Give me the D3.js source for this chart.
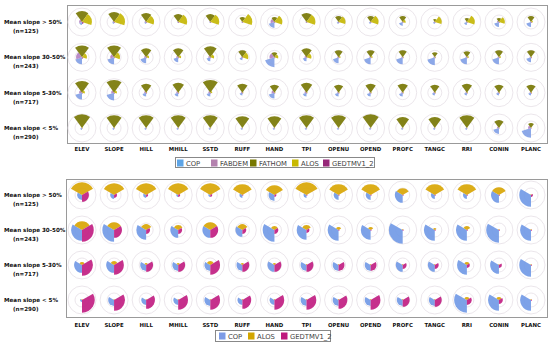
<!DOCTYPE html>
<html>
<head>
<meta charset="utf-8">
<script src="https://cdn.jsdelivr.net/npm/d3@7"></script>
<style>
  body { margin: 0; background: #fff; }
  text { font-family: "DejaVu Sans", Verdana, sans-serif; }
</style>
</head>
<body>
<svg id="chart" width="550" height="342"></svg>
<script>
// terrain variables (columns) and slope classes (rows)
var variables = ['ELEV', 'SLOPE', 'HILL', 'MHILL', 'SSTD', 'RUFF', 'HAND', 'TPI',
                 'OPENU', 'OPEND', 'PROFC', 'TANGC', 'RRI', 'CONIN', 'PLANC'];
var slopeClasses = ['Mean slope > 50%', 'Mean slope 30-50%', 'Mean slope 5-30%', 'Mean slope < 5%'];
var slopeCounts = ['(n=125)', '(n=243)', '(n=717)', '(n=290)'];

// top panel: five DEMs, one row per slope class
var topSeries = ['COP', 'FABDEM', 'FATHOM', 'ALOS', 'GEDTMV1_2'];
var topCOP = [
  [21, 14, 14, 7, 7, 7, 42, 7, 14, 14, 28, 14, 21, 35, 35],
  [49, 49, 42, 35, 28, 21, 70, 28, 42, 49, 49, 56, 49, 49, 35],
  [49, 56, 28, 28, 28, 21, 42, 28, 28, 28, 28, 21, 21, 21, 21],
  [14, 14, 14, 14, 14, 14, 14, 14, 14, 14, 14, 14, 14, 42, 70]
];
var topFABDEM = [
  [21, 10, 10, 7, 7, 7, 28, 7, 7, 7, 7, 7, 7, 14, 7],
  [42, 28, 14, 14, 14, 10, 35, 14, 10, 10, 10, 10, 10, 10, 10],
  [21, 21, 14, 14, 14, 10, 21, 14, 10, 10, 10, 10, 10, 10, 10],
  [7, 7, 7, 7, 7, 7, 7, 7, 7, 7, 7, 7, 7, 14, 21]
];
var topFATHOM = [
  [77, 70, 63, 56, 56, 35, 35, 63, 42, 42, 42, 21, 28, 28, 42],
  [84, 84, 63, 63, 77, 49, 35, 63, 49, 49, 49, 35, 42, 49, 49],
  [84, 91, 63, 70, 91, 63, 56, 70, 56, 63, 63, 56, 63, 56, 56],
  [98, 91, 91, 91, 91, 84, 84, 91, 91, 98, 77, 77, 91, 56, 35]
];
var topALOS = [
  [70, 77, 56, 63, 63, 70, 56, 63, 49, 56, 21, 49, 56, 42, 14],
  [35, 42, 21, 21, 28, 42, 28, 35, 14, 14, 7, 7, 14, 14, 7],
  [21, 21, 7, 7, 14, 7, 7, 7, 7, 7, 7, 7, 7, 7, 7],
  [7, 7, 5, 5, 7, 5, 5, 5, 5, 5, 5, 5, 5, 5, 5]
];
var topGEDTM = [
  [14, 7, 7, 7, 7, 7, 7, 7, 7, 7, 7, 7, 7, 7, 7],
  [10, 7, 7, 7, 7, 7, 7, 7, 7, 7, 7, 7, 7, 7, 7],
  [7, 7, 7, 7, 7, 7, 7, 7, 7, 7, 7, 7, 7, 7, 7],
  [5, 5, 5, 5, 5, 5, 5, 5, 5, 5, 5, 5, 5, 5, 5]
];

// bottom panel: three DEMs
var bottomSeries = ['COP', 'ALOS', 'GEDTMV1_2'];
var botCOP = [
  [35, 28, 21, 14, 14, 21, 42, 21, 35, 35, 56, 28, 28, 56, 84],
  [77, 84, 70, 56, 56, 49, 84, 70, 77, 70, 98, 77, 77, 91, 77],
  [56, 56, 42, 42, 42, 42, 49, 42, 42, 42, 49, 49, 70, 63, 84],
  [14, 42, 35, 35, 42, 35, 35, 42, 42, 42, 42, 42, 91, 77, 77]
];
var botALOS = [
  [91, 84, 84, 84, 84, 77, 70, 91, 77, 77, 49, 77, 77, 56, 7],
  [63, 56, 42, 35, 56, 42, 28, 35, 21, 21, 7, 14, 28, 7, 7],
  [21, 28, 14, 14, 28, 14, 14, 7, 7, 7, 7, 7, 21, 7, 7],
  [7, 7, 7, 7, 7, 7, 7, 7, 7, 7, 7, 7, 21, 21, 7]
];
var botGEDTM = [
  [49, 21, 14, 14, 14, 7, 14, 7, 7, 7, 7, 7, 7, 7, 14],
  [84, 56, 28, 28, 56, 28, 28, 21, 7, 7, 7, 7, 7, 7, 7],
  [77, 70, 49, 49, 70, 49, 49, 49, 42, 42, 28, 28, 21, 21, 7],
  [91, 77, 63, 70, 70, 63, 70, 70, 63, 70, 49, 49, 35, 28, 7]
];

var svg = d3.select('#chart');

function drawPanel(p) {
  var x = d3.scalePoint().domain(variables).range([p.x0, p.x1]);
  var y = d3.scalePoint().domain(slopeClasses).range([p.y0, p.y1]);
  var r = d3.scaleLinear().domain([0, 100]).range([0, 14]);
  var n = p.series.length;
  var step = 2 * Math.PI / n;
  var arc = d3.arc().innerRadius(0);

  var g = svg.append('g');

  // frame round the small multiples
  g.append('rect')
      .attr('x', p.box[0] + 0.5).attr('y', p.box[1] + 0.5)
      .attr('width', p.box[2] - p.box[0]).attr('height', p.box[3] - p.box[1])
      .attr('fill', 'none').attr('stroke', '#9a9a9a').attr('stroke-width', 1);

  slopeClasses.forEach(function(sc, ri) {
    variables.forEach(function(v, ci) {
      var cell = g.append('g')
          .attr('transform', 'translate(' + x(v) + ',' + y(sc) + ')');

      cell.selectAll('circle.grid')
          .data([50, 100])
          .enter().append('circle')
          .attr('class', 'grid')
          .attr('r', function(d) { return r(d); })
          .attr('fill', 'none')
          .attr('stroke', '#e6dfe6')
          .attr('stroke-width', 0.8);

      var wedges = p.series.map(function(s, si) {
        return { name: s, value: p.values[si][ri][ci], i: si };
      });
      cell.selectAll('path.wedge')
          .data(wedges)
          .enter().append('path')
          .attr('class', 'wedge')
          .attr('d', function(d) {
            return arc({ outerRadius: r(d.value),
                         startAngle: Math.PI + d.i * step,
                         endAngle: Math.PI + (d.i + 1) * step });
          })
          .attr('fill', function(d) { return p.fills[d.i]; })
          .attr('fill-opacity', 0.9);
    });

    // row labels
    g.append('text')
        .attr('x', 4).attr('y', y(sc) + 2)
        .attr('font-size', 5.6).attr('font-weight', 'bold').attr('fill', '#111')
        .text(sc);
    g.append('text')
        .attr('x', 13).attr('y', y(sc) + 11)
        .attr('font-size', 5.6).attr('font-weight', 'bold').attr('fill', '#111')
        .text(slopeCounts[ri]);
  });

  // column labels
  g.selectAll('text.col')
      .data(variables)
      .enter().append('text')
      .attr('class', 'col')
      .attr('x', function(d) { return x(d); })
      .attr('y', p.labelY)
      .attr('text-anchor', 'middle')
      .attr('font-size', 5.4).attr('font-weight', 'bold').attr('fill', '#111')
      .text(function(d) { return d; });

  // legend
  var lg = g.append('g');
  lg.append('rect')
      .attr('x', p.legend.x0 + 0.5).attr('y', p.legend.y0 + 0.5)
      .attr('width', p.legend.x1 - p.legend.x0).attr('height', p.legend.y1 - p.legend.y0)
      .attr('fill', '#fff').attr('stroke', '#888').attr('stroke-width', 1);
  p.series.forEach(function(s, si) {
    lg.append('rect')
        .attr('x', p.legend.swatch[si]).attr('y', p.legend.y0 + 2.5)
        .attr('width', 6.5).attr('height', 7)
        .attr('fill', p.legendFills[si]);
    lg.append('text')
        .attr('x', p.legend.swatch[si] + 9).attr('y', p.legend.y0 + 8.7)
        .attr('font-size', 6.8).attr('fill', '#444')
        .text(s);
  });
}

drawPanel({
  series: topSeries,
  values: [topCOP, topFABDEM, topFATHOM, topALOS, topGEDTM],
  fills: ['#7f9fe6', '#b27fc0', '#767600', '#c4b600', '#9a2c80'],
  legendFills: ['#5fa5e6', '#b482af', '#787800', '#c8b900', '#962878'],
  x0: 82, x1: 531, y0: 22, y1: 128,
  box: [67, 5, 547, 143],
  labelY: 151,
  legend: { x0: 175, x1: 374, y0: 157, y1: 167, swatch: [177, 211, 250, 292, 323] }
});

drawPanel({
  series: bottomSeries,
  values: [botCOP, botALOS, botGEDTM],
  fills: ['#6f98e6', '#d8a400', '#c0197f'],
  legendFills: ['#7d9be6', '#d2a500', '#be197d'],
  x0: 82, x1: 531, y0: 195, y1: 300,
  box: [66, 179, 547, 317],
  labelY: 327,
  legend: { x0: 215, x1: 330, y0: 330, y1: 341, swatch: [219, 248, 281] }
});
</script>
</body>
</html>
